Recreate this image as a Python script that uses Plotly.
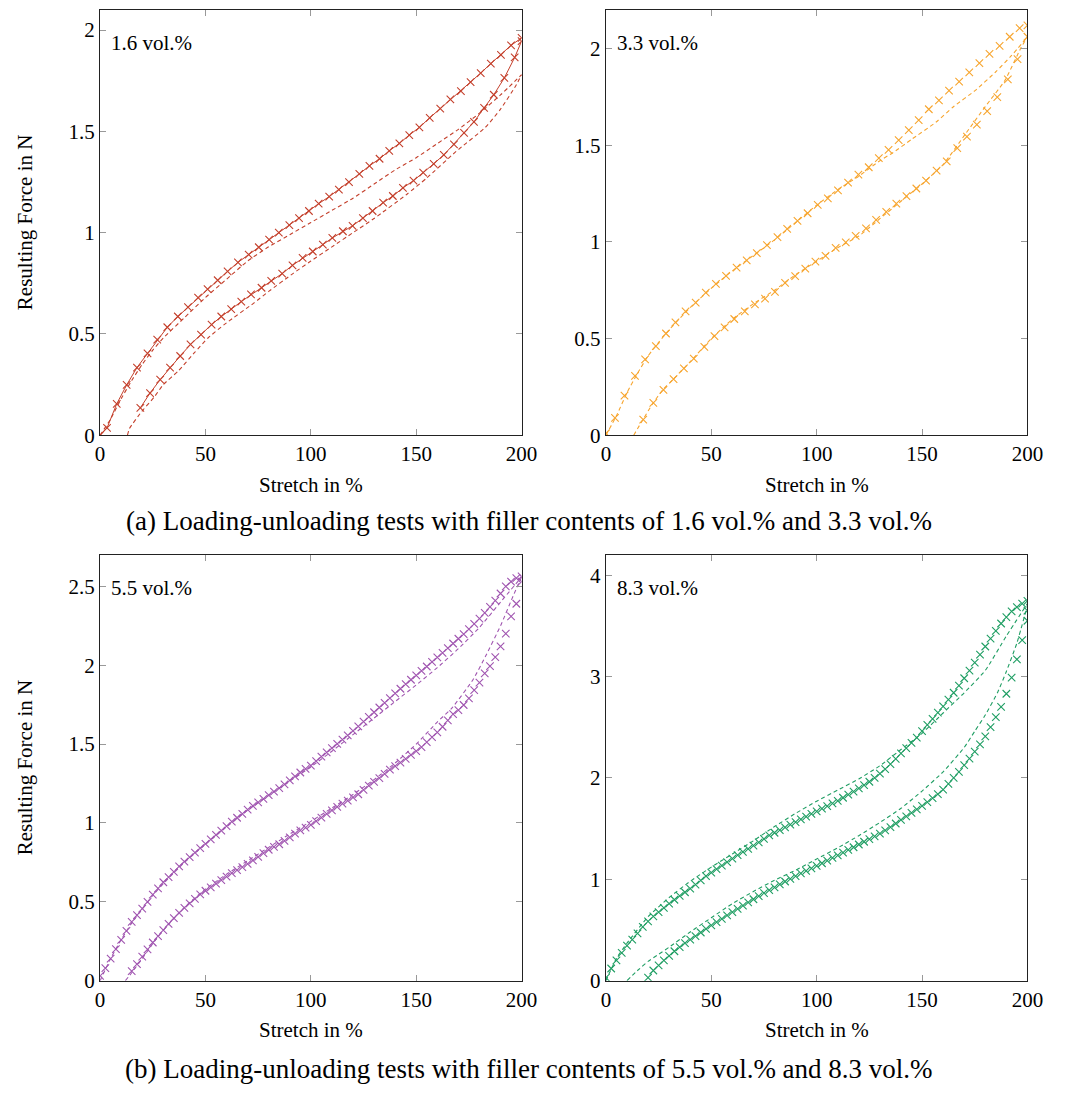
import plotly.graph_objects as go

W, H = 1065, 1097

# ---------------- data: 1.6 vol.% ----------------
p1_load_x = [0, 3.3, 7.9, 12.6, 17.5, 22.5, 27.1, 31.9, 36.9, 41.7, 46.5, 51, 55.8, 60.5, 65.4, 70.5, 75.3, 80.2, 84.8, 89.8,
             94.4, 99.1, 103.7, 108.7, 113.3, 118.1, 123, 127.8, 132.6, 137.2, 142, 146.7, 151.5, 156.4, 161.4, 166.2,
             171.2, 175.8, 180.6, 185.4, 190.2, 195, 200]
p1_load_y = [0, 0.036, 0.155, 0.248, 0.334, 0.404, 0.472, 0.533, 0.586, 0.632, 0.679, 0.721, 0.765, 0.809, 0.853, 0.892,
             0.928, 0.966, 1.0, 1.037, 1.072, 1.107, 1.143, 1.178, 1.213, 1.25, 1.29, 1.33, 1.365, 1.404, 1.441, 1.482,
             1.52, 1.567, 1.612, 1.658, 1.699, 1.743, 1.788, 1.835, 1.878, 1.925, 1.962]
p1_unload_x = [200, 196.7, 191.8, 186.8, 182.2, 177.4, 172.7, 167.9, 163.1, 158.3, 153.3, 148.7, 143.7, 138.9, 134.3,
               129.3, 124.7, 119.8, 115.2, 110.2, 105.7, 100.9, 96.1, 91.3, 86.4, 81.2, 76.6, 71.6, 67, 62.2, 57.5, 52.9,
               47.9, 42.9, 38, 33.2, 28.5, 23.7, 19.1]
p1_unload_y = [1.946, 1.865, 1.764, 1.681, 1.616, 1.547, 1.493, 1.436, 1.384, 1.34, 1.296, 1.257, 1.221, 1.181, 1.148,
               1.107, 1.072, 1.034, 1.007, 0.974, 0.941, 0.907, 0.875, 0.839, 0.798, 0.762, 0.728, 0.695, 0.66, 0.622,
               0.586, 0.546, 0.497, 0.448, 0.391, 0.334, 0.274, 0.208, 0.135]
p1_mload_x = [0, 5, 10, 15, 20, 25, 30, 40, 50, 60, 70, 80, 90, 100, 110, 120, 130, 140, 150, 160, 170, 180, 190, 200]
p1_mload_y = [0, 0.08, 0.18, 0.27, 0.35, 0.42, 0.48, 0.58, 0.68, 0.77, 0.86, 0.93, 0.99, 1.05, 1.11, 1.17, 1.24, 1.31,
              1.37, 1.44, 1.51, 1.59, 1.68, 1.78]
p1_munload_x = [13, 14, 20, 25.6, 30, 37.2, 45, 51.2, 60, 72.9, 80, 91.5, 100, 110, 120, 130, 145.6, 155, 168.8, 182.8,
                190, 197.5, 200]
p1_munload_y = [0, 0.034, 0.12, 0.187, 0.25, 0.318, 0.41, 0.48, 0.555, 0.652, 0.71, 0.798, 0.86, 0.93, 1.0, 1.07, 1.19,
                1.27, 1.4, 1.52, 1.61, 1.73, 1.78]

# ---------------- data: 3.3 vol.% ----------------
p2_load_x = [0, 4.3, 8.8, 13.8, 18.6, 23.7, 28.5, 33, 37.8, 42.6, 47.4, 52.2, 57, 62, 66.8, 71.6, 76.4, 81.4, 86, 90.9,
             95.7, 100.5, 105.3, 110.1, 114.9, 119.8, 124.7, 129.5, 134.1, 138.9, 143.7, 148.4, 153.2, 158, 162.8,
             167.6, 172.4, 177.2, 182, 186.8, 191.6, 196.3, 200]
p2_load_y = [0.01, 0.09, 0.205, 0.307, 0.392, 0.461, 0.526, 0.584, 0.64, 0.686, 0.737, 0.783, 0.824, 0.867, 0.904, 0.942,
             0.983, 1.024, 1.067, 1.109, 1.148, 1.191, 1.225, 1.266, 1.307, 1.348, 1.386, 1.433, 1.476, 1.526, 1.578,
             1.63, 1.686, 1.732, 1.782, 1.829, 1.877, 1.925, 1.973, 2.014, 2.061, 2.106, 2.12]
p2_unload_x = [200, 195.3, 190.7, 185.7, 180.9, 176, 171.3, 166.7, 161.7, 156.9, 151.9, 147.3, 142.6, 137.8, 133, 128.2,
               123.4, 118.5, 113.8, 109, 104.2, 99.4, 94.6, 89.8, 85, 80.2, 75.5, 70.7, 65.9, 60.9, 56.3, 51.5, 46.7,
               41.7, 37, 32.1, 27.3, 22.5, 17.7]
p2_unload_y = [2.061, 1.945, 1.84, 1.749, 1.676, 1.607, 1.544, 1.485, 1.416, 1.369, 1.317, 1.276, 1.237, 1.198, 1.155,
               1.114, 1.07, 1.031, 0.997, 0.969, 0.928, 0.898, 0.862, 0.823, 0.788, 0.741, 0.706, 0.677, 0.64, 0.601,
               0.558, 0.512, 0.457, 0.396, 0.346, 0.29, 0.234, 0.167, 0.08]
p2_mload_x = [0, 5, 10, 15, 20, 25, 30, 40, 50, 60, 70, 80, 90, 100, 110, 120, 130, 136, 145, 156.7, 165, 175.3, 185,
              192.4, 200]
p2_mload_y = [0, 0.1, 0.22, 0.32, 0.41, 0.48, 0.545, 0.66, 0.76, 0.85, 0.93, 1.01, 1.1, 1.19, 1.27, 1.34, 1.42, 1.46,
              1.53, 1.62, 1.7, 1.784, 1.88, 1.963, 2.06]
p2_munload_x = [13.2, 17, 22, 27, 32, 40, 50, 60, 70, 80, 90, 100, 110, 120, 130, 140, 150, 160, 170.7, 180, 189.3, 197,
                200]
p2_munload_y = [0, 0.07, 0.16, 0.235, 0.29, 0.38, 0.5, 0.6, 0.68, 0.75, 0.83, 0.9, 0.97, 1.03, 1.12, 1.21, 1.3, 1.4,
                1.56, 1.7, 1.835, 2.005, 2.06]

# ---------------- data: 5.5 vol.% ----------------
p3_load_x = [0, 2.5, 5, 7.5, 10, 12.5, 15, 17.5, 20, 22.5, 25, 27.5, 30, 32.5, 35, 37.5, 40, 42.5, 45, 47.5, 50, 52.5,
             55, 57.5, 60, 62.5, 65, 67.5, 70, 72.5, 75, 77.5, 80, 82.5, 85, 87.5, 90, 92.5, 95, 97.5, 100, 102.5, 105,
             107.5, 110, 112.5, 115, 117.5, 120, 122.5, 125, 127.5, 130, 132.5, 135, 137.5, 140, 142.5, 145, 147.5, 150,
             152.5, 155, 157.5, 160, 162.5, 165, 167.5, 170, 172.5, 175, 177.5, 180, 182.5, 185, 187.5, 190, 192.5, 195,
             197.5, 200]
p3_load_y = [0.03, 0.08, 0.14, 0.2, 0.258, 0.315, 0.373, 0.415, 0.457, 0.5, 0.545, 0.585, 0.624, 0.657, 0.69, 0.725,
             0.755, 0.783, 0.812, 0.84, 0.868, 0.896, 0.924, 0.952, 0.98, 1.008, 1.033, 1.058, 1.084, 1.108, 1.131,
             1.153, 1.176, 1.199, 1.221, 1.245, 1.27, 1.295, 1.32, 1.343, 1.364, 1.392, 1.42, 1.447, 1.474, 1.501,
             1.528, 1.556, 1.584, 1.613, 1.642, 1.672, 1.702, 1.732, 1.762, 1.792, 1.822, 1.851, 1.88, 1.908, 1.936,
             1.964, 1.992, 2.021, 2.05, 2.079, 2.108, 2.138, 2.168, 2.198, 2.229, 2.262, 2.296, 2.332, 2.37, 2.41,
             2.455, 2.5, 2.53, 2.553, 2.563]
p3_unload_x = [15, 17.5, 20, 22.5, 25, 27.5, 30, 32.5, 35, 37.5, 40, 42.5, 45, 47.5, 50, 52.5, 55, 57.5, 60, 62.5, 65,
               67.5, 70, 72.5, 75, 77.5, 80, 82.5, 85, 87.5, 90, 92.5, 95, 97.5, 100, 102.5, 105, 107.5, 110, 112.5, 115,
               117.5, 120, 122.5, 125, 127.5, 130, 132.5, 135, 137.5, 140, 142.5, 145, 147.5, 150, 152.5, 155, 157.5,
               160, 162.5, 165, 167.5, 170, 172.5, 175, 177.5, 180, 182.5, 185, 187.5, 190, 192.5, 195, 197.5, 200]
p3_unload_y = [0.06, 0.105, 0.153, 0.198, 0.242, 0.282, 0.321, 0.36, 0.397, 0.43, 0.462, 0.49, 0.519, 0.547, 0.57, 0.592,
               0.615, 0.637, 0.66, 0.682, 0.701, 0.72, 0.74, 0.762, 0.785, 0.808, 0.83, 0.848, 0.865, 0.886, 0.908,
               0.932, 0.953, 0.97, 0.988, 1.012, 1.034, 1.057, 1.08, 1.102, 1.122, 1.142, 1.162, 1.182, 1.21, 1.237,
               1.26, 1.284, 1.311, 1.338, 1.36, 1.383, 1.407, 1.432, 1.455, 1.481, 1.512, 1.544, 1.575, 1.61, 1.65,
               1.69, 1.715, 1.748, 1.79, 1.842, 1.89, 1.948, 1.995, 2.052, 2.12, 2.2, 2.31, 2.39, 2.53]
p3_mload_x = [0, 5, 10, 15, 20, 25, 30, 40, 50, 60, 70, 80, 90, 100, 110, 120, 130, 140, 150, 160, 170, 180, 190, 200]
p3_mload_y = [0, 0.14, 0.26, 0.365, 0.455, 0.54, 0.615, 0.75, 0.865, 0.975, 1.08, 1.175, 1.265, 1.355, 1.455, 1.56,
              1.665, 1.77, 1.875, 1.985, 2.105, 2.24, 2.4, 2.56]
p3_munload_x = [12, 15, 20, 25, 30, 40, 50, 60, 70, 80, 90, 100, 110, 120, 130, 140, 150, 160, 167, 177, 183, 190, 196,
                200]
p3_munload_y = [0, 0.05, 0.14, 0.235, 0.32, 0.465, 0.58, 0.675, 0.76, 0.845, 0.93, 1.01, 1.095, 1.18, 1.275, 1.38, 1.5,
                1.64, 1.73, 1.91, 2.06, 2.25, 2.44, 2.56]

# ---------------- data: 8.3 vol.% ----------------
p4_load_x = p3_load_x
p4_load_y = [0.03, 0.12, 0.2, 0.275, 0.345, 0.405, 0.467, 0.53, 0.585, 0.634, 0.677, 0.718, 0.759, 0.798, 0.836, 0.872,
             0.908, 0.948, 0.99, 1.03, 1.065, 1.1, 1.134, 1.17, 1.204, 1.238, 1.27, 1.3, 1.331, 1.363, 1.398, 1.433,
             1.459, 1.485, 1.512, 1.538, 1.564, 1.59, 1.617, 1.644, 1.67, 1.696, 1.722, 1.748, 1.774, 1.804, 1.835,
             1.865, 1.897, 1.929, 1.962, 2.0, 2.042, 2.086, 2.136, 2.188, 2.241, 2.294, 2.346, 2.398, 2.461, 2.523,
             2.583, 2.644, 2.706, 2.771, 2.84, 2.911, 2.983, 3.058, 3.136, 3.217, 3.296, 3.374, 3.45, 3.523, 3.586,
             3.642, 3.684, 3.72, 3.746]
p4_unload_x = [20, 22.5, 25, 27.5, 30, 32.5, 35, 37.5, 40, 42.5, 45, 47.5, 50, 52.5, 55, 57.5, 60, 62.5, 65, 67.5, 70,
               72.5, 75, 77.5, 80, 82.5, 85, 87.5, 90, 92.5, 95, 97.5, 100, 102.5, 105, 107.5, 110, 112.5, 115, 117.5,
               120, 122.5, 125, 127.5, 130, 132.5, 135, 137.5, 140, 142.5, 145, 147.5, 150, 152.5, 155, 157.5, 160,
               162.5, 165, 167.5, 170, 172.5, 175, 177.5, 180, 182.5, 185, 187.5, 190, 192.5, 195, 197.5, 200, 200]
p4_unload_y = [0.03, 0.1, 0.15, 0.2, 0.245, 0.29, 0.33, 0.37, 0.405, 0.44, 0.475, 0.51, 0.545, 0.578, 0.61, 0.643, 0.676,
               0.708, 0.74, 0.772, 0.803, 0.834, 0.864, 0.893, 0.921, 0.95, 0.978, 1.005, 1.032, 1.058, 1.083, 1.108,
               1.133, 1.158, 1.183, 1.21, 1.236, 1.262, 1.289, 1.316, 1.343, 1.37, 1.397, 1.424, 1.451, 1.482, 1.515,
               1.55, 1.585, 1.62, 1.655, 1.69, 1.724, 1.76, 1.8, 1.84, 1.885, 1.94, 2.0, 2.06, 2.125, 2.19, 2.26, 2.33,
               2.41, 2.5, 2.6, 2.7, 2.83, 2.99, 3.17, 3.36, 3.55, 3.65]
p4_mload_x = [0, 5, 10, 20, 30, 40, 50, 60, 70, 80, 90, 100, 110, 120, 130, 140, 150, 160, 170, 180, 190, 200]
p4_mload_y = [0, 0.22, 0.37, 0.63, 0.82, 0.98, 1.12, 1.25, 1.38, 1.52, 1.65, 1.77, 1.88, 1.99, 2.12, 2.28, 2.44, 2.64,
              2.84, 3.06, 3.4, 3.72]
p4_munload_x = [10, 15, 20, 25, 30, 40, 50, 60, 70, 80, 90, 100, 110, 120, 130, 140, 150, 160, 170, 175, 180, 186, 190,
                195, 200]
p4_munload_y = [0, 0.1, 0.19, 0.26, 0.33, 0.48, 0.62, 0.76, 0.88, 0.99, 1.09, 1.2, 1.31, 1.43, 1.56, 1.7, 1.87, 2.06,
                2.3, 2.46, 2.62, 2.85, 3.05, 3.33, 3.7]

labels = ["1.6 vol.%", "3.3 vol.%", "5.5 vol.%", "8.3 vol.%"]
colors = ["#c4402c", "#f7a52e", "#a055b0", "#1f9e63"]
y_ranges = [[0, 2.1], [0, 2.2], [0, 2.7], [0, 4.2]]
y_ticks = [[0, 0.5, 1, 1.5, 2], [0, 0.5, 1, 1.5, 2], [0, 0.5, 1, 1.5, 2, 2.5], [0, 1, 2, 3, 4]]
x_ticks = [0, 50, 100, 150, 200]
captions = ["(a) Loading-unloading tests with filler contents of 1.6 vol.% and 3.3 vol.%",
            "(b) Loading-unloading tests with filler contents of 5.5 vol.% and 8.3 vol.%"]

series = [
    (p1_load_x, p1_load_y, p1_unload_x, p1_unload_y, p1_mload_x, p1_mload_y, p1_munload_x, p1_munload_y, True),
    (p2_load_x, p2_load_y, p2_unload_x, p2_unload_y, p2_mload_x, p2_mload_y, p2_munload_x, p2_munload_y, False),
    (p3_load_x, p3_load_y, p3_unload_x, p3_unload_y, p3_mload_x, p3_mload_y, p3_munload_x, p3_munload_y, False),
    (p4_load_x, p4_load_y, p4_unload_x, p4_unload_y, p4_mload_x, p4_mload_y, p4_munload_x, p4_munload_y, False),
]

# panel pixel boxes (left, right, top, bottom)
boxes = [(97, 527, 10, 440), (613, 1043, 10, 440), (97, 527, 561, 991.5), (613, 1043, 561, 991.5)]

FONT = "Liberation Serif"
SMALL = 21
fig = go.Figure()
layout = dict(width=W, height=H, margin=dict(l=0, r=0, t=0, b=0), paper_bgcolor="white", plot_bgcolor="white",
              showlegend=False, font=dict(family=FONT, size=SMALL, color="black"))
annotations = []

for i, (lx, ly, ux, uy, mlx, mly, mux, muy, with_line) in enumerate(series):
    xa = "x" if i == 0 else f"x{i+1}"
    ya = "y" if i == 0 else f"y{i+1}"
    c = colors[i]
    mode = "lines+markers" if with_line else "markers"
    mk = dict(symbol="x-thin", size=7.5, line=dict(width=1.1, color=c), color=c)
    for xs, ys in ((lx, ly), (ux, uy)):
        fig.add_trace(go.Scatter(x=xs, y=ys, mode=mode, marker=mk, line=dict(color=c, width=1.0),
                                 xaxis=xa, yaxis=ya, hoverinfo="skip"))
    for xs, ys in ((mlx, mly), (mux, muy)):
        fig.add_trace(go.Scatter(x=xs, y=ys, mode="lines", line=dict(color=c, width=1.1, dash="4px,3px",
                                 shape="spline", smoothing=0.5), xaxis=xa, yaxis=ya, hoverinfo="skip"))
    l, r, t, b = boxes[i]
    axis_common = dict(showline=True, linecolor="#222", linewidth=1.2, mirror="allticks", ticks="inside",
                       ticklen=6, tickwidth=1, tickcolor="#999", showgrid=False, zeroline=False,
                       tickfont=dict(family=FONT, size=SMALL, color="black"))
    xkey = "xaxis" if i == 0 else f"xaxis{i+1}"
    ykey = "yaxis" if i == 0 else f"yaxis{i+1}"
    layout[xkey] = dict(axis_common, domain=[l / W, r / W], range=[0, 200], tickvals=x_ticks, anchor=ya)
    layout[ykey] = dict(axis_common, domain=[1 - b / H, 1 - t / H], range=y_ranges[i], tickvals=y_ticks[i],
                        anchor=xa)
    annotations.append(dict(text=labels[i], x=(l + 9) / W, y=1 - (t + 33) / H, xref="paper", yref="paper",
                            xanchor="left", yanchor="middle", showarrow=False,
                            font=dict(family=FONT, size=SMALL, color="black")))
    annotations.append(dict(text="Stretch in %", x=(l + r) / 2 / W, y=1 - (b + 50) / H, xref="paper", yref="paper",
                            xanchor="center", yanchor="middle", showarrow=False,
                            font=dict(family=FONT, size=SMALL, color="black")))
    if i % 2 == 0:
        annotations.append(dict(text="Resulting Force in N", x=20 / W, y=1 - (t + b) / 2 / H, xref="paper",
                                yref="paper", xanchor="center", yanchor="middle", textangle=-90, showarrow=False,
                                font=dict(family=FONT, size=SMALL, color="black")))

annotations.append(dict(text=captions[0], x=535 / W, y=1 - 527 / H, xref="paper", yref="paper", xanchor="center",
                        yanchor="middle", showarrow=False, font=dict(family=FONT, size=27, color="black")))
annotations.append(dict(text=captions[1], x=535 / W, y=1 - 1081 / H, xref="paper", yref="paper", xanchor="center",
                        yanchor="middle", showarrow=False, font=dict(family=FONT, size=27, color="black")))
layout["annotations"] = annotations
fig.update_layout(**layout)
fig.write_html("out.html")
